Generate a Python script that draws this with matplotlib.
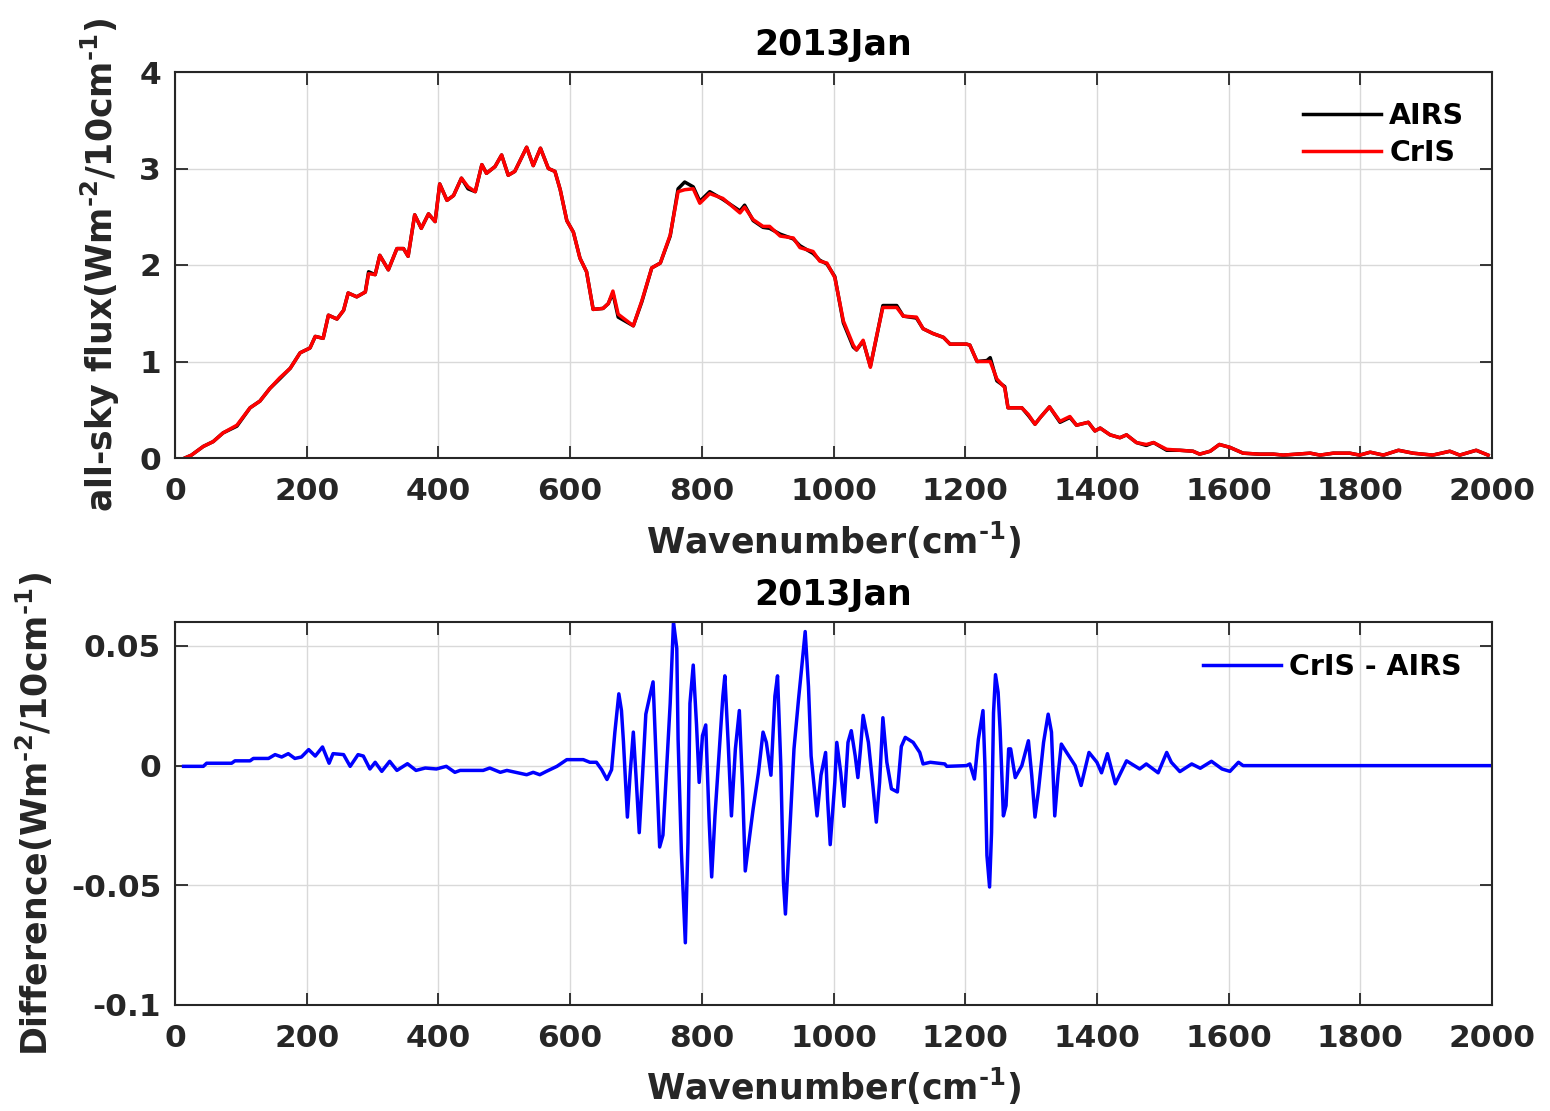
import matplotlib
matplotlib.use("Agg")
import matplotlib.pyplot as plt
import numpy as np

plt.rcParams['font.family'] = ['DejaVu Sans']
plt.rcParams['font.weight'] = 'bold'
plt.rcParams['mathtext.fontset'] = 'custom'
plt.rcParams['mathtext.rm'] = 'DejaVu Sans:bold'
plt.rcParams['mathtext.bf'] = 'DejaVu Sans:bold'
plt.rcParams['mathtext.it'] = 'DejaVu Sans:bold'
plt.rcParams['mathtext.sf'] = 'DejaVu Sans:bold'
plt.rcParams['mathtext.default'] = 'bf'
plt.rcParams['axes.unicode_minus'] = False

# ---------------- data ----------------
wn_top = [15, 25, 43, 58, 73, 94, 114, 129, 144, 159, 175, 190, 205, 213, 225, 233, 246, 256, 263, 276,
          289, 294, 304, 311, 324, 337, 347, 354, 364, 374, 385, 395, 402, 413, 423, 435, 445, 456, 466, 473,
          486, 496, 506, 516, 534, 544, 555, 567, 577, 585, 595, 605, 615, 625, 635, 650, 658, 665, 673, 696,
          709, 724, 737, 752, 764, 774, 787, 797, 812, 832, 858, 865, 878, 893, 903, 919, 939, 949, 969, 979,
          990, 1002, 1015, 1030, 1035, 1045, 1056, 1065, 1075, 1096, 1106, 1126, 1136, 1151, 1167, 1177, 1202, 1207, 1218, 1233,
          1238, 1248, 1260, 1265, 1286, 1296, 1306, 1314, 1328, 1344, 1359, 1369, 1387, 1397, 1405, 1420, 1435, 1445, 1460, 1475,
          1486, 1506, 1526, 1546, 1556, 1572, 1586, 1602, 1622, 1647, 1668, 1683, 1724, 1739, 1759, 1784, 1799, 1815, 1835, 1858,
          1880, 1910, 1936, 1951, 1976, 1994]

cris = [0.00, 0.03, 0.12, 0.17, 0.26, 0.34, 0.52, 0.59, 0.72, 0.83, 0.93, 1.09, 1.14, 1.26, 1.24, 1.48, 1.44, 1.53, 1.71, 1.67,
        1.72, 1.91, 1.90, 2.10, 1.95, 2.17, 2.17, 2.09, 2.52, 2.38, 2.53, 2.45, 2.84, 2.67, 2.72, 2.90, 2.81, 2.76, 3.04, 2.95,
        3.02, 3.14, 2.93, 2.97, 3.22, 3.03, 3.21, 3.00, 2.97, 2.78, 2.46, 2.34, 2.07, 1.93, 1.54, 1.55, 1.60, 1.73, 1.49, 1.37,
        1.63, 1.97, 2.02, 2.31, 2.76, 2.78, 2.79, 2.64, 2.74, 2.69, 2.54, 2.60, 2.47, 2.40, 2.40, 2.30, 2.28, 2.18, 2.14, 2.04,
        2.02, 1.87, 1.42, 1.17, 1.12, 1.22, 0.94, 1.25, 1.56, 1.56, 1.47, 1.46, 1.34, 1.29, 1.25, 1.18, 1.18, 1.17, 1.00, 1.00,
        1.00, 0.82, 0.73, 0.52, 0.52, 0.45, 0.35, 0.42, 0.53, 0.38, 0.43, 0.34, 0.37, 0.28, 0.31, 0.24, 0.21, 0.24, 0.16, 0.14,
        0.16, 0.09, 0.08, 0.07, 0.04, 0.07, 0.14, 0.11, 0.05, 0.04, 0.04, 0.03, 0.05, 0.03, 0.05, 0.05, 0.03, 0.06, 0.03, 0.08,
        0.05, 0.03, 0.07, 0.03, 0.08, 0.03]

airs = [0.00, 0.03, 0.12, 0.17, 0.26, 0.33, 0.52, 0.59, 0.72, 0.82, 0.93, 1.09, 1.14, 1.26, 1.24, 1.48, 1.44, 1.53, 1.71, 1.67,
        1.72, 1.93, 1.90, 2.10, 1.95, 2.17, 2.17, 2.09, 2.52, 2.38, 2.53, 2.45, 2.84, 2.67, 2.72, 2.90, 2.79, 2.76, 3.04, 2.95,
        3.02, 3.14, 2.93, 2.97, 3.22, 3.03, 3.21, 3.00, 2.97, 2.78, 2.46, 2.34, 2.07, 1.93, 1.54, 1.55, 1.60, 1.71, 1.46, 1.37,
        1.62, 1.97, 2.02, 2.30, 2.79, 2.86, 2.81, 2.66, 2.76, 2.68, 2.56, 2.62, 2.46, 2.39, 2.38, 2.32, 2.27, 2.20, 2.12, 2.05,
        2.01, 1.88, 1.40, 1.15, 1.12, 1.21, 0.95, 1.24, 1.58, 1.58, 1.47, 1.45, 1.34, 1.29, 1.25, 1.18, 1.18, 1.17, 1.00, 1.01,
        1.04, 0.80, 0.74, 0.52, 0.52, 0.44, 0.35, 0.42, 0.53, 0.37, 0.42, 0.34, 0.37, 0.28, 0.31, 0.24, 0.21, 0.24, 0.16, 0.13,
        0.16, 0.08, 0.08, 0.07, 0.04, 0.07, 0.14, 0.11, 0.05, 0.04, 0.04, 0.03, 0.05, 0.03, 0.05, 0.05, 0.03, 0.06, 0.03, 0.08,
        0.05, 0.03, 0.07, 0.03, 0.08, 0.03]

wn_diff = [13, 43, 48, 86, 91, 114, 119, 142, 152, 162, 172, 182, 192, 203, 213, 224, 234, 240, 256, 266,
           278, 286, 296, 304, 314, 326, 337, 353, 366, 380, 397, 412, 425, 433, 468, 478, 494, 504, 534, 544,
           554, 564, 580, 595, 620, 630, 640, 648, 656, 663, 668, 674, 678, 681, 687, 691, 696, 700, 705, 710,
           715, 721, 726, 731, 736, 741, 748, 752, 757, 762, 764, 769, 775, 779, 782, 787, 792, 796, 801, 806,
           811, 815, 820, 825, 832, 835, 840, 845, 851, 857, 862, 866, 871, 878, 886, 893, 898, 905, 911, 915,
           920, 924, 927, 933, 940, 947, 951, 957, 962, 966, 972, 975, 981, 988, 991, 995, 1002, 1005, 1011, 1016,
           1022, 1027, 1033, 1037, 1041, 1045, 1053, 1060, 1065, 1070, 1075, 1081, 1088, 1097, 1103, 1109, 1121, 1131, 1136, 1147,
           1169, 1172, 1202, 1207, 1214, 1220, 1227, 1230, 1233, 1237, 1240, 1243, 1246, 1250, 1253, 1258, 1262, 1266, 1269, 1276,
           1286, 1296, 1301, 1306, 1311, 1319, 1326, 1331, 1336, 1341, 1346, 1354, 1367, 1376, 1388, 1400, 1407, 1416, 1428, 1445,
           1465, 1475, 1493, 1506, 1513, 1526, 1544, 1557, 1574, 1590, 1602, 1615, 1622, 2000]

diff = [-0.0003, -0.0003, 0.0010, 0.0010, 0.0020, 0.0020, 0.0030, 0.0030, 0.0046, 0.0036, 0.0050, 0.0030, 0.0036, 0.0067, 0.0040, 0.0078, 0.0010, 0.0050, 0.0046, -0.0003,
        0.0046, 0.0040, -0.0014, 0.0014, -0.0024, 0.0018, -0.0020, 0.0008, -0.0020, -0.0010, -0.0014, -0.0003, -0.0028, -0.0020, -0.0020, -0.0010, -0.0028, -0.0020, -0.0038, -0.0028,
        -0.0038, -0.0024, -0.0003, 0.0025, 0.0025, 0.0014, 0.0014, -0.0017, -0.0058, -0.0017, 0.0140, 0.0300, 0.0230, 0.0100, -0.0215, -0.0040, 0.0140, -0.0040, -0.0280, -0.0040,
        0.0215, 0.0290, 0.0350, 0.0000, -0.0340, -0.0290, 0.0055, 0.0260, 0.0600, 0.0490, 0.0110, -0.0360, -0.0740, -0.0320, 0.0260, 0.0420, 0.0170, -0.0070, 0.0125, 0.0170,
        -0.0220, -0.0465, -0.0210, 0.0000, 0.0290, 0.0375, 0.0097, -0.0210, 0.0070, 0.0230, -0.0097, -0.0440, -0.0330, -0.0180, -0.0030, 0.0140, 0.0097, -0.0040, 0.0290, 0.0375,
        0.0000, -0.0486, -0.0620, -0.0306, 0.0070, 0.0280, 0.0390, 0.0560, 0.0330, 0.0040, -0.0125, -0.0210, -0.0040, 0.0055, -0.0140, -0.0330, -0.0070, 0.0097, -0.0030, -0.0170,
        0.0097, 0.0146, 0.0040, -0.0050, 0.0070, 0.0210, 0.0097, -0.0090, -0.0236, -0.0070, 0.0200, 0.0014, -0.0097, -0.0110, 0.0080, 0.0118, 0.0097, 0.0055, 0.0007, 0.0014,
        0.0007, -0.0003, 0.0000, 0.0007, -0.0056, 0.0110, 0.0230, 0.0000, -0.0375, -0.0507, -0.0280, 0.0220, 0.0380, 0.0306, 0.0150, -0.0210, -0.0167, 0.0070, 0.0070, -0.0050,
        0.0000, 0.0104, -0.0040, -0.0215, -0.0110, 0.0097, 0.0215, 0.0140, -0.0210, -0.0040, 0.0090, 0.0055, 0.0000, -0.0083, 0.0055, 0.0014, -0.0030, 0.0050, -0.0076, 0.0020,
        -0.0014, 0.0007, -0.0030, 0.0055, 0.0014, -0.0025, 0.0007, -0.0011, 0.0018, -0.0014, -0.0024, 0.0014, 0.0000, 0.0000]

title = "2013Jan"
xlabel = r"Wavenumber(cm$^{\text{-1}}$)"
ylabel_top = r"all-sky flux(Wm$^{\text{-2}}$/10cm$^{\text{-1}}$)"
ylabel_bot = r"Difference(Wm$^{\text{-2}}$/10cm$^{\text{-1}}$)"
xticks = [0, 200, 400, 600, 800, 1000, 1200, 1400, 1600, 1800, 2000]
yticks_top = [0, 1, 2, 3, 4]
yticks_bot = [-0.1, -0.05, 0, 0.05]
yticklabels_bot = ["-0.1", "-0.05", "0", "0.05"]

# ---------------- figure ----------------
W, H = 1550, 1111
fig = plt.figure(figsize=(W / 100, H / 100), dpi=100)
dark = '#262626'

def px_axes(l, t, r, b):
    return [l / W, 1 - b / H, (r - l) / W, (b - t) / H]

ax1 = fig.add_axes(px_axes(175, 72, 1492, 458))
ax2 = fig.add_axes(px_axes(175, 622, 1492, 1005))

tick_fs = 22.5
lab_fs = 25
leg_fs = 20.5

for ax in (ax1, ax2):
    ax.grid(True, color='#d9d9d9', linewidth=1.0)
    ax.set_axisbelow(True)
    ax.tick_params(direction='in', length=9, width=1.3, colors=dark, labelsize=tick_fs,
                   top=True, right=True)
    ax.tick_params(axis='x', pad=14)
    ax.tick_params(axis='y', pad=10)
    for sp in ax.spines.values():
        sp.set_color(dark)
        sp.set_linewidth(1.5)
    ax.set_xlim(0, 2000)
    ax.set_xticks(xticks)
    ax.set_xticklabels([str(t) for t in xticks], fontweight='bold')
    ax.set_xlabel(xlabel, fontsize=lab_fs, fontweight='bold', color=dark)
    ax.set_title(title, fontsize=lab_fs, fontweight='bold', color='black', pad=12)

ax1.plot(wn_top, airs, color='black', lw=2.5, label='AIRS')
ax1.plot(wn_top, cris, color='red', lw=2.5, label='CrIS')
ax1.set_ylim(0, 4)
ax1.set_yticks(yticks_top)
ax1.set_yticklabels([str(t) for t in yticks_top], fontweight='bold')
ax1.set_ylabel(ylabel_top, fontsize=lab_fs, fontweight='bold', color=dark)
ax1.yaxis.set_label_coords(-0.040, 0.5)
ax1.xaxis.set_label_coords(0.5, -0.16)
leg1 = ax1.legend(loc='upper right', bbox_to_anchor=(0.979, 0.922), frameon=False,
                  fontsize=leg_fs, handlelength=2.75, handletextpad=0.28, labelspacing=0.3,
                  borderaxespad=0, borderpad=0)
for t in leg1.get_texts():
    t.set_fontweight('bold')

ax2.plot(wn_diff, diff, color='blue', lw=2.5, label='CrIS - AIRS')
ax2.set_ylim(-0.1, 0.06)
ax2.set_yticks(yticks_bot)
ax2.set_yticklabels(yticklabels_bot, fontweight='bold')
ax2.set_ylabel(ylabel_bot, fontsize=lab_fs, fontweight='bold', color=dark)
ax2.yaxis.set_label_coords(-0.091, 0.5)
ax2.xaxis.set_label_coords(0.5, -0.16)
leg2 = ax2.legend(loc='upper right', bbox_to_anchor=(0.977, 0.92), frameon=False,
                  fontsize=leg_fs, handlelength=2.75, handletextpad=0.28,
                  borderaxespad=0, borderpad=0)
for t in leg2.get_texts():
    t.set_fontweight('bold')

fig.savefig('out.png', dpi=100, facecolor='white')
